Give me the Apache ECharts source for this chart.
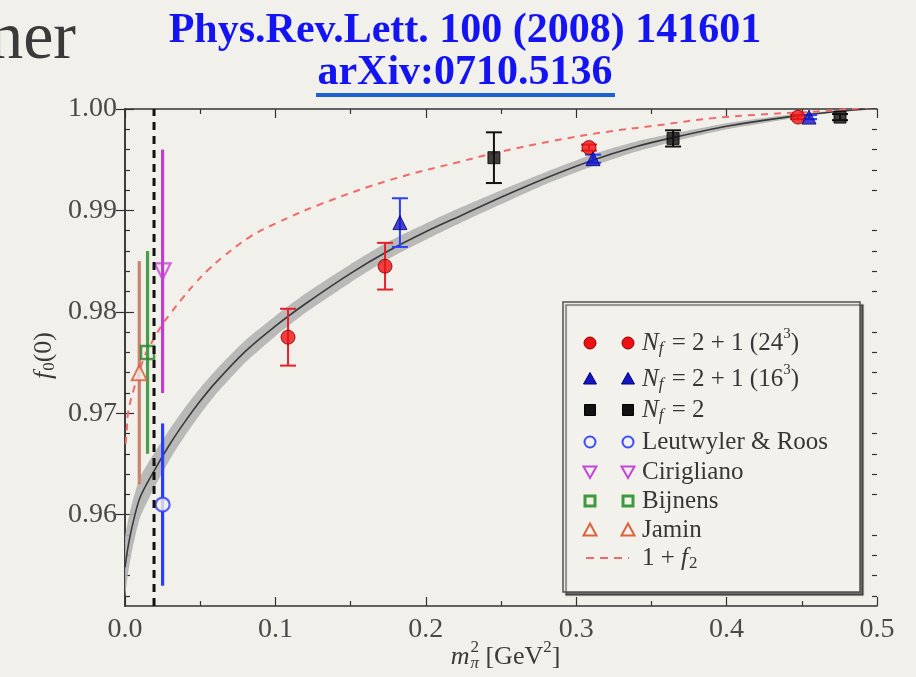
<!DOCTYPE html>
<html>
<head>
<meta charset="utf-8">
<script src="https://cdn.jsdelivr.net/npm/echarts@6/dist/echarts.min.js"></script>
<style>
  html, body { margin: 0; padding: 0; background: #f2f0eb; }
  #chart { width: 916px; height: 677px; }
</style>
</head>
<body>
<div id="chart"></div>
<script>
// ---- axis ticks ----
const xTickVals  = [0.0, 0.1, 0.2, 0.3, 0.4, 0.5];
const xMinorVals = [0.05, 0.15, 0.25, 0.35, 0.45];
const yTickVals  = [0.96, 0.97, 0.98, 0.99, 1.00];
const yMinorVals = [0.952, 0.954, 0.956, 0.958, 0.962, 0.964, 0.966, 0.968,
                    0.972, 0.974, 0.976, 0.978, 0.982, 0.984, 0.986, 0.988,
                    0.992, 0.994, 0.996, 0.998];
const xRange = [0.0, 0.5];
const yRange = [0.951, 1.0];

// ---- lattice results: m_pi^2, f0(0), error ----
const lat24X = [0.1084, 0.1729, 0.3085, 0.4475];
const lat24Y = [0.9775, 0.9845, 0.9962, 0.9992];
const lat24E = [0.0028, 0.0023, 0.0003, 0.0002];

const lat16X = [0.1828, 0.3112, 0.4548];
const lat16Y = [0.9888, 0.9951, 0.9992];
const lat16E = [0.0024, 0.0004, 0.0002];

const nf2X = [0.2453, 0.3644, 0.4754];
const nf2Y = [0.9952, 0.9971, 0.9992];
const nf2E = [0.0025, 0.0008, 0.0003];

// ---- model estimates at the physical point ----
const leutX = [0.0250], leutY = [0.961], leutE = [0.008];
const ciriX = [0.0250], ciriY = [0.984], ciriE = [0.012];
const bijnX = [0.0150], bijnY = [0.976], bijnE = [0.010];
const jamiX = [0.0095], jamiY = [0.974], jamiE = [0.011];

// physical pion mass squared
const physX = 0.0193;

// ---- chiral fit with its error band ----
const fitX  = [0.000, 0.002, 0.005, 0.010, 0.020, 0.030, 0.040, 0.050, 0.060, 0.080,
               0.100, 0.120, 0.150, 0.175, 0.200, 0.225, 0.250, 0.280, 0.310, 0.340,
               0.365, 0.400, 0.440, 0.470, 0.500];
const fitY  = [0.9548, 0.9568, 0.9590, 0.9617, 0.9645, 0.9670, 0.9692, 0.9712, 0.9730, 0.9761,
               0.9786, 0.9808, 0.9838, 0.9860, 0.9879, 0.9896, 0.9913, 0.9932, 0.9949, 0.9963,
               0.9972, 0.9983, 0.9992, 0.9997, 1.0001];
const fitLo = [0.9519, 0.9542, 0.9567, 0.9597, 0.9628, 0.9655, 0.9678, 0.9699, 0.9718, 0.9750,
               0.9776, 0.9799, 0.9829, 0.9852, 0.9871, 0.9889, 0.9906, 0.9926, 0.9943, 0.9958,
               0.9968, 0.9980, 0.9990, 0.9996, 1.0000];
const fitHi = [0.9577, 0.9594, 0.9613, 0.9637, 0.9662, 0.9685, 0.9706, 0.9725, 0.9742, 0.9772,
               0.9796, 0.9818, 0.9847, 0.9869, 0.9887, 0.9904, 0.9920, 0.9938, 0.9955, 0.9968,
               0.9976, 0.9986, 0.9994, 0.9998, 1.0002];

// ---- 1 + f2 ----
const f2X = [0.0005, 0.0013, 0.0020, 0.0053, 0.0130, 0.0186, 0.0246, 0.0300, 0.0380, 0.0465,
             0.0550, 0.0650, 0.0831, 0.1000, 0.1297, 0.1762, 0.2227, 0.2473, 0.2826, 0.3180,
             0.3546, 0.3912, 0.4277, 0.4643, 0.4970];
const f2Y = [0.9670, 0.9687, 0.9700, 0.9721, 0.9756, 0.9772, 0.9787, 0.9798, 0.9813, 0.9828,
             0.9841, 0.9854, 0.9874, 0.9887, 0.9906, 0.9930, 0.9948, 0.9957, 0.9968, 0.9977,
             0.9984, 0.9991, 0.9995, 0.9998, 1.0002];

// ---- legend labels ----
const legendNames = ['N_f = 2 + 1 (24^3)', 'N_f = 2 + 1 (16^3)', 'N_f = 2',
                     'Leutwyler & Roos', 'Cirigliano', 'Bijnens', 'Jamin', '1 + f_2'];

const SERIF = '"Liberation Serif", "DejaVu Serif", serif';
const BG = '#f2f0eb';
const INK = '#333333';

// text measuring for composed labels
const mctx = document.createElement('canvas').getContext('2d');
function textWidth(t, font) { mctx.font = font; return mctx.measureText(t).width; }
function fontOf(p, base) {
  const size = p.size || base;
  return (p.italic ? 'italic ' : '') + (p.bold ? 'bold ' : '') + size + 'px ' + SERIF;
}
// lay out a run of pieces (sub/superscripts via dy) starting at x, centred on y
function textRun(pieces, x, y, base, color, align) {
  let total = 0;
  pieces.forEach(p => { if (!p.stack) total += textWidth(p.t, fontOf(p, base)); });
  let cx = align === 'center' ? x - total / 2 : x;
  const out = [];
  pieces.forEach(p => {
    const font = fontOf(p, base);
    out.push({
      type: 'text', silent: true,
      style: { text: p.t, x: cx + (p.dx || 0), y: y + (p.dy || 0), font: font, fill: color,
               textAlign: 'left', textVerticalAlign: 'middle' }
    });
    if (!p.stack) cx += textWidth(p.t, font) + (p.gap || 0);
  });
  return out;
}

// error bars drawn through the cartesian coordinate system
function errorBars(xs, ys, es, color, width, cap, z) {
  return {
    type: 'custom', silent: true, z: z,
    data: xs.map((x, i) => [x, ys[i] - es[i], ys[i] + es[i]]),
    encode: { x: 0, y: [1, 2] },
    renderItem(params, api) {
      const x = api.value(0);
      const a = api.coord([x, api.value(1)]);
      const b = api.coord([x, api.value(2)]);
      const st = { stroke: color, lineWidth: width };
      const kids = [{ type: 'line', shape: { x1: a[0], y1: a[1], x2: b[0], y2: b[1] }, style: st }];
      if (cap) {
        kids.push({ type: 'line', shape: { x1: a[0] - cap, y1: a[1], x2: a[0] + cap, y2: a[1] }, style: st });
        kids.push({ type: 'line', shape: { x1: b[0] - cap, y1: b[1], x2: b[0] + cap, y2: b[1] }, style: st });
      }
      return { type: 'group', children: kids };
    }
  };
}
function markers(xs, ys, symbol, size, style, rotate, z) {
  return {
    type: 'scatter', silent: true, z: z,
    data: xs.map((x, i) => [x, ys[i]]),
    symbol: symbol, symbolSize: size, symbolRotate: rotate || 0,
    itemStyle: style
  };
}

const axisLineStyle = { color: INK, width: 1.5 };
function xAxisDef(pos, ticks, len, labels) {
  return {
    type: 'value', position: pos, min: xRange[0], max: xRange[1],
    axisLine: { show: !!labels, lineStyle: axisLineStyle, onZero: false },
    axisTick: { show: true, inside: true, length: len, customValues: ticks, lineStyle: { color: INK, width: 1.2 } },
    axisLabel: labels ? { show: true, customValues: ticks, formatter: v => v.toFixed(1),
                          fontFamily: SERIF, fontSize: 28, color: '#4a4a4a', margin: 10 }
                      : { show: false },
    splitLine: { show: false }
  };
}
function yAxisDef(pos, ticks, len, labels) {
  return {
    type: 'value', position: pos, min: yRange[0], max: yRange[1],
    axisLine: { show: !!labels, lineStyle: axisLineStyle, onZero: false },
    axisTick: { show: true, inside: true, length: len, customValues: ticks, lineStyle: { color: INK, width: 1.2 } },
    axisLabel: labels ? { show: true, customValues: ticks, formatter: v => v.toFixed(2),
                          fontFamily: SERIF, fontSize: 28, color: '#4a4a4a', margin: 8 }
                      : { show: false },
    splitLine: { show: false }
  };
}

// ---- legend drawn as graphic elements ----
const legX = 563, legY = 302, legW = 297, legH = 290;
const rowY = [343, 379, 410, 442, 472, 501, 530, 558];
const mk1 = 590, mk2 = 628, txtX = 642, legFont = 25;

function legendMarker(kind, cx, cy) {
  switch (kind) {
    case 'redDot': return { type: 'circle', shape: { cx, cy, r: 6 }, style: { fill: '#ee1111', stroke: '#8a0000', lineWidth: 1 } };
    case 'blueTri': return { type: 'polygon', shape: { points: [[cx, cy - 6.5], [cx + 6.5, cy + 5], [cx - 6.5, cy + 5]] }, style: { fill: '#1515c8', stroke: '#000070', lineWidth: 1 } };
    case 'blackSq': return { type: 'rect', shape: { x: cx - 5.5, y: cy - 5.5, width: 11, height: 11 }, style: { fill: '#111', stroke: '#000', lineWidth: 1 } };
    case 'openCirc': return { type: 'circle', shape: { cx, cy, r: 5.5 }, style: { fill: 'none', stroke: '#3b4cff', lineWidth: 2 } };
    case 'invTri': return { type: 'polygon', shape: { points: [[cx - 6.5, cy - 5.5], [cx + 6.5, cy - 5.5], [cx, cy + 6]] }, style: { fill: 'none', stroke: '#c644d6', lineWidth: 2 } };
    case 'openSq': return { type: 'rect', shape: { x: cx - 5, y: cy - 5, width: 10, height: 10 }, style: { fill: 'none', stroke: '#3c9a3c', lineWidth: 3 } };
    case 'openTri': return { type: 'polygon', shape: { points: [[cx, cy - 6.5], [cx + 6.5, cy + 5.5], [cx - 6.5, cy + 5.5]] }, style: { fill: 'none', stroke: '#dc623e', lineWidth: 2 } };
  }
}
const legendKinds = ['redDot', 'blueTri', 'blackSq', 'openCirc', 'invTri', 'openSq', 'openTri', 'dash'];

function legendText(i, y) {
  const name = legendNames[i];
  if (name.startsWith('N_f')) {
    const rest = name.slice(3);               // " = 2 + 1 (24^3)" or " = 2"
    const m = rest.match(/^(.*\()(\d+)\^(\d)(\))$/);
    const parts = [{ t: 'N', italic: true }, { t: 'f', italic: true, size: 17, dy: 6, gap: 2 }];
    if (m) {
      parts.push({ t: m[1] + m[2] }, { t: m[3], size: 15, dy: -9 }, { t: m[4] });
    } else {
      parts.push({ t: rest });
    }
    return textRun(parts, txtX, y, legFont, '#363636', 'left');
  }
  if (name === '1 + f_2') {
    return textRun([{ t: '1 + ' }, { t: 'f', italic: true, gap: 1 }, { t: '2', size: 17, dy: 6 }], txtX, y, legFont, '#363636', 'left');
  }
  return textRun([{ t: name }], txtX, y, legFont, '#363636', 'left');
}

const legendEls = [{
  type: 'rect', silent: true, z: 100,
  shape: { x: legX, y: legY, width: legW, height: legH },
  style: { fill: '#f3f1ec', stroke: '#505050', lineWidth: 1.5, shadowColor: 'rgba(0,0,0,0.55)', shadowOffsetX: 3, shadowOffsetY: 3, shadowBlur: 1 }
}];
legendKinds.forEach((k, i) => {
  const y = rowY[i];
  if (k === 'dash') {
    legendEls.push({ type: 'line', silent: true, z: 101, shape: { x1: mk1 - 4, y1: y, x2: mk2 + 1, y2: y },
                     style: { stroke: '#f06a6a', lineWidth: 2, lineDash: [8, 6] } });
  } else {
    legendEls.push(Object.assign({ silent: true, z: 101 }, legendMarker(k, mk1, y)));
    legendEls.push(Object.assign({ silent: true, z: 101 }, legendMarker(k, mk2, y)));
  }
  legendText(i, y).forEach(e => { e.z = 101; legendEls.push(e); });
});

// ---- titles and axis names ----
const titleEls = [
  { type: 'text', silent: true, style: { text: 'ner', x: 76, y: 40, font: '68px ' + SERIF, fill: '#3a3a3a', textAlign: 'right', textVerticalAlign: 'middle' } },
  { type: 'text', silent: true, style: { text: 'Phys.Rev.Lett. 100 (2008) 141601', x: 465, y: 31, font: 'bold 42px ' + SERIF, fill: '#1414f2', textAlign: 'center', textVerticalAlign: 'middle' } },
  { type: 'text', silent: true, style: { text: 'arXiv:0710.5136', x: 465, y: 73, font: 'bold 42px ' + SERIF, fill: '#1414f2', textAlign: 'center', textVerticalAlign: 'middle' } },
  { type: 'rect', silent: true, shape: { x: 316, y: 93, width: 299, height: 4 }, style: { fill: '#1b62d2' } }
];
// x-axis name: m_pi^2 [GeV^2]
const xName = textRun([
  { t: 'm', italic: true, size: 26, gap: 1 },
  { t: '2', size: 17, dy: -9, stack: true },
  { t: 'π', italic: true, size: 17, dy: 7, gap: 0 },
  { t: ' [GeV' , size: 26 },
  { t: '2', size: 17, dy: -9 },
  { t: ']', size: 26 }
], 505, 657, 26, '#3a3a3a', 'center');
// y-axis name: f_0(0), rotated
const yNameKids = textRun([
  { t: 'f', italic: true, size: 26, gap: 1 },
  { t: '0', size: 17, dy: 6 },
  { t: '(0)', size: 26 }
], 0, 0, 26, '#3a3a3a', 'center');
const yName = { type: 'group', x: 44, y: 356, rotation: Math.PI / 2, children: yNameKids };

const chart = echarts.init(document.getElementById('chart'), null, { renderer: 'canvas' });
chart.setOption({
  animation: false,
  backgroundColor: BG,
  grid: { left: 125, right: 39, top: 109, bottom: 71, show: false },
  xAxis: [
    xAxisDef('bottom', xTickVals, 9, true),
    xAxisDef('bottom', xMinorVals, 5, false),
    Object.assign(xAxisDef('top', xTickVals, 9, false), { axisLine: { show: true, lineStyle: axisLineStyle } }),
    xAxisDef('top', xMinorVals, 5, false)
  ],
  yAxis: [
    yAxisDef('left', yTickVals, 9, true),
    yAxisDef('left', yMinorVals, 5, false),
    Object.assign(yAxisDef('right', yTickVals, 9, false), { axisLine: { show: true, lineStyle: axisLineStyle } }),
    yAxisDef('right', yMinorVals, 5, false)
  ],
  series: [
    // error band of the fit
    {
      type: 'custom', silent: true, z: 1,
      data: fitX.map((x, i) => [x, fitLo[i], fitHi[i]]),
      encode: { x: 0, y: [1, 2] },
      renderItem(params, api) {
        if (params.dataIndex !== 0) return null;
        const pts = [];
        for (let i = 0; i < fitX.length; i++) pts.push(api.coord([fitX[i], fitHi[i]]));
        for (let i = fitX.length - 1; i >= 0; i--) pts.push(api.coord([fitX[i], fitLo[i]]));
        const cs = params.coordSys;
        return {
          type: 'group',
          clipPath: { type: 'rect', shape: { x: cs.x, y: cs.y, width: cs.width, height: cs.height } },
          children: [{ type: 'polygon', shape: { points: pts, smooth: 0.2 }, style: { fill: '#b2b2b2', opacity: 0.9 } }]
        };
      }
    },
    // central fit curve
    { type: 'line', silent: true, z: 2, data: fitX.map((x, i) => [x, fitY[i]]), smooth: 0.3,
      showSymbol: false, lineStyle: { color: '#3a3a3a', width: 1.6 } },
    // 1 + f2
    { type: 'line', silent: true, z: 3, data: f2X.map((x, i) => [x, f2Y[i]]), smooth: 0.4,
      showSymbol: false, lineStyle: { color: '#f06a6a', width: 2, type: [7, 6] } },
    // model estimates
    errorBars(jamiX, jamiY, jamiE, '#c9826c', 3.2, 0, 4),
    errorBars(bijnX, bijnY, bijnE, '#4a9e4a', 3.2, 0, 4),
    errorBars(ciriX, ciriY, ciriE, '#c040cc', 3.2, 0, 4),
    errorBars(leutX, leutY, leutE, '#2a3cff', 3.2, 0, 4),
    markers(jamiX, jamiY, 'triangle', 15, { color: BG, borderColor: '#d85a38', borderWidth: 2 }, 0, 5),
    markers(bijnX, bijnY, 'rect', 13, { color: 'rgba(0,0,0,0)', borderColor: '#2e7d2e', borderWidth: 2.5 }, 0, 5),
    markers(ciriX, ciriY, 'triangle', 16, { color: 'rgba(0,0,0,0)', borderColor: '#c840d8', borderWidth: 2.2 }, 180, 5),
    markers(leutX, leutY, 'circle', 14, { color: BG, borderColor: '#2a3cff', borderWidth: 2.2 }, 0, 5),
    // physical pion mass
    { type: 'line', silent: true, z: 6, data: [[physX, yRange[0]], [physX, yRange[1]]],
      showSymbol: false, lineStyle: { color: '#111', width: 3, type: [8, 6] } },
    // lattice data
    errorBars(lat24X, lat24Y, lat24E, '#e8202a', 2, 8, 7),
    errorBars(lat16X, lat16Y, lat16E, '#2a40ff', 2, 8, 7),
    errorBars(nf2X, nf2Y, nf2E, '#111111', 2, 8, 7),
    markers(lat24X, lat24Y, 'circle', 14, { color: '#ee1111', borderColor: '#8a0000', borderWidth: 1 }, 0, 8),
    markers(lat16X, lat16Y, 'triangle', 14, { color: '#1515c8', borderColor: '#000070', borderWidth: 1 }, 0, 8),
    markers(nf2X, nf2Y, 'rect', 12, { color: '#111111', borderColor: '#000', borderWidth: 1 }, 0, 8)
  ],
  graphic: { elements: titleEls.concat(xName, [yName], legendEls) }
});
</script>
</body>
</html>
